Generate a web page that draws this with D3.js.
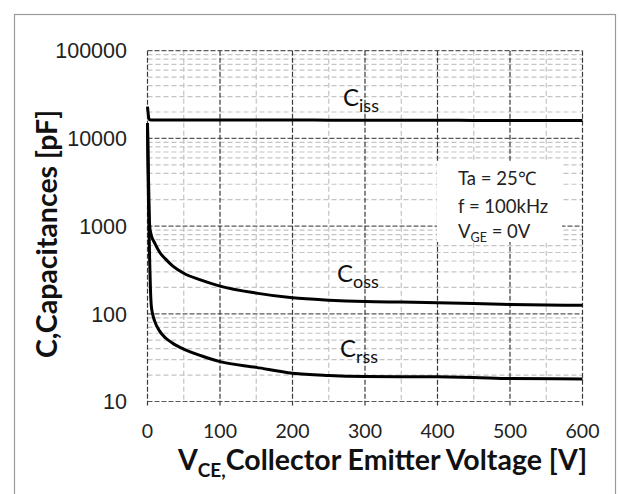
<!DOCTYPE html>
<html><head><meta charset="utf-8">
<script src="https://cdn.jsdelivr.net/npm/d3@7"></script>
<style>body{margin:0;background:#fff}svg{display:block}</style>
</head><body>
<svg id="c" width="620" height="494"></svg>
<script>
// ---- data ----
const xTicks = [0, 100, 200, 300, 400, 500, 600];
const xTickLabels = ["0", "100", "200", "300", "400", "500", "600"];
const yTicks = [10, 100, 1000, 10000, 100000];
const yTickLabels = ["10", "100", "1000", "10000", "100000"];

const cissV = [0, 1, 2, 5, 50, 100, 200, 300, 400, 500, 600];
const cissC = [23000, 19000, 16500, 16200, 16200, 16200, 16200, 16100, 16100, 16000, 16000];

const cossV = [0, 1, 2, 3, 5, 10, 17, 25, 35, 50, 72, 100, 150, 200, 250, 300, 350, 400, 500, 600];
const cossC = [15000, 5000, 2000, 1000, 800, 640, 500, 420, 350, 290, 245, 207, 172, 152, 143, 138, 136, 134, 128, 125];

const crssV = [0, 1, 2, 3, 4, 5, 7, 10, 17, 25, 35, 50, 75, 100, 150, 200, 250, 300, 350, 400, 450, 500, 600];
const crssC = [14000, 3000, 1000, 400, 200, 130, 100, 82, 63, 53, 46, 39.5, 33, 28.5, 24.5, 21, 19.8, 19.3, 19.2, 19.1, 18.8, 18.3, 18.1];

const seriesNames = ["iss", "oss", "rss"];
const conditionLines = [["Ta = 25℃"], ["f = 100kHz"], ["V", "GE", " = 0V"]];

// ---- chart ----
const svg = d3.select("#c");
const x = d3.scaleLinear().domain([0, 600]).range([147.5, 582.5]);
const y = d3.scaleLog().domain([10, 100000]).range([401.5, 50.7]);

svg.append("rect").attr("width", 620).attr("height", 494).attr("fill", "#fff");
svg.append("rect").attr("x", 14.5).attr("y", 14.5).attr("width", 601).attr("height", 500)
  .attr("fill", "none").attr("stroke", "#9a9a9a").attr("stroke-width", 1.2);

const g = svg.append("g");
// minor grid
const minorX = d3.range(50, 600, 100);
const minorY = [];
[10, 100, 1000, 10000].forEach(d => { for (let k = 2; k <= 9; k++) minorY.push(k * d); });
g.selectAll(".mx").data(minorX).join("line")
  .attr("x1", d => x(d)).attr("x2", d => x(d)).attr("y1", y(100000)).attr("y2", y(10))
  .attr("stroke", "#c4c4c4").attr("stroke-width", 1.2).attr("stroke-dasharray", "5,3");
g.selectAll(".my").data(minorY).join("line")
  .attr("x1", x(0)).attr("x2", x(600)).attr("y1", d => y(d)).attr("y2", d => y(d))
  .attr("stroke", "#c4c4c4").attr("stroke-width", 1.2).attr("stroke-dasharray", "5,3");
// major grid
g.selectAll(".My").data(yTicks).join("line")
  .attr("x1", x(0)).attr("x2", x(600)).attr("y1", d => y(d)).attr("y2", d => y(d))
  .attr("stroke", "#5a5a5a").attr("stroke-width", 1.2).attr("stroke-dasharray", "5,2");
g.selectAll(".Mx").data(xTicks).join("line")
  .attr("x1", d => x(d)).attr("x2", d => x(d)).attr("y1", y(100000)).attr("y2", y(10) + 4)
  .attr("stroke", "#3a3a3a").attr("stroke-width", 1.2).attr("stroke-dasharray", "5,2");

// condition box
svg.append("rect").attr("x", 437).attr("y", 161).attr("width", 125).attr("height", 81).attr("fill", "#fff");

// curves
const line = d3.line().x(d => x(d[0])).y(d => y(d[1])).curve(d3.curveMonotoneX);
[[cissV, cissC], [cossV, cossC], [crssV, crssC]].forEach(([vs, cs]) => {
  svg.append("path").datum(vs.map((v, i) => [v, cs[i]]))
    .attr("d", line).attr("fill", "none").attr("stroke", "#000").attr("stroke-width", 3)
    .attr("stroke-linejoin", "round");
});

// tick labels
svg.selectAll(".yl").data(yTicks).join("text")
  .attr("x", 127).attr("y", d => y(d)).attr("dy", "0.36em").attr("text-anchor", "end")
  .attr("font-family", "Liberation Sans, Arial, sans-serif").attr("font-size", 21.5).attr("fill", "#222")
  .text((d, i) => yTickLabels[i]);
svg.selectAll(".xl").data(xTicks).join("text")
  .attr("x", d => x(d)).attr("y", 438).attr("text-anchor", "middle")
  .attr("font-family", "Lato, sans-serif").attr("font-size", 19.5).attr("fill", "#222")
  .text((d, i) => xTickLabels[i]);

// axis titles
svg.append("text").attr("transform", "translate(57,234) rotate(-90)")
  .attr("text-anchor", "middle").attr("font-family", "Lato, sans-serif").attr("font-weight", "bold")
  .attr("font-size", 28.5).attr("fill", "#111").text("C,Capacitances [pF]");
const xt = svg.append("text").attr("x", 178).attr("y", 470)
  .attr("font-family", "Lato, sans-serif").attr("font-weight", "bold").attr("font-size", 28.5).attr("fill", "#111");
xt.append("tspan").text("V");
xt.append("tspan").attr("font-size", 19).attr("dy", 7).text("CE,");
xt.append("tspan").attr("dy", -7).text("Collector Emitter Voltage [V]");

// series labels
const labelPos = [[343, 106], [337, 282], [340, 357]];
seriesNames.forEach((s, i) => {
  const t = svg.append("text").attr("x", labelPos[i][0]).attr("y", labelPos[i][1])
    .attr("font-family", "Lato, sans-serif").attr("font-size", 24).attr("fill", "#111");
  t.append("tspan").text("C");
  t.append("tspan").attr("font-size", 18).attr("dy", 6).text(s);
});

// conditions
const condY = [185, 213, 238];
conditionLines.forEach((parts, i) => {
  const t = svg.append("text").attr("x", 458).attr("y", condY[i])
    .attr("font-family", "Lato, sans-serif").attr("font-size", 18.5).attr("fill", "#222");
  if (parts.length === 1) t.text(parts[0]);
  else {
    t.append("tspan").text(parts[0]);
    t.append("tspan").attr("font-size", 12.5).attr("dy", 4).text(parts[1]);
    t.append("tspan").attr("dy", -4).text(parts[2]);
  }
});
</script>
</body></html>
